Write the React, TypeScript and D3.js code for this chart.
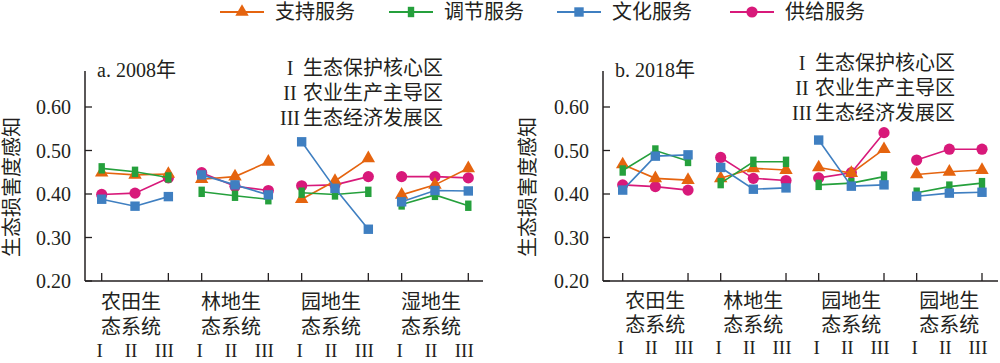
import * as d3 from "d3";

// categories and zones
const zones = ["I", "II", "III"];
const catsA = ["农田", "林地", "园地", "湿地"];
const catsB = ["农田", "林地", "园地", "园地"];
const yTicks = [0.2, 0.3, 0.4, 0.5, 0.6];
const zoneNames = ["生态保护核心区", "农业生产主导区", "生态经济发展区"];

// 2008 (a), 12 values: 4 ecosystems x 3 zones
const support2008 = [0.449, 0.444, 0.446, 0.434, 0.44, 0.474, 0.388, 0.43, 0.482, 0.398, 0.421, 0.459];
const regulate2008 = [0.459, 0.451, 0.438, 0.405, 0.396, 0.388, 0.403, 0.399, 0.405, 0.376, 0.398, 0.373];
const culture2008 = [0.388, 0.372, 0.394, 0.444, 0.421, 0.398, 0.52, 0.413, 0.319, 0.382, 0.408, 0.407];
const provision2008 = [0.399, 0.402, 0.437, 0.449, 0.418, 0.408, 0.419, 0.421, 0.44, 0.44, 0.44, 0.437];

// 2018 (b)
const support2018 = [0.468, 0.436, 0.432, 0.436, 0.459, 0.455, 0.461, 0.448, 0.503, 0.445, 0.451, 0.455];
const regulate2018 = [0.454, 0.5, 0.476, 0.425, 0.474, 0.474, 0.421, 0.425, 0.44, 0.403, 0.417, 0.425];
const culture2018 = [0.409, 0.487, 0.49, 0.461, 0.411, 0.414, 0.524, 0.418, 0.421, 0.395, 0.402, 0.404];
const provision2018 = [0.421, 0.417, 0.409, 0.484, 0.436, 0.431, 0.437, 0.449, 0.541, 0.478, 0.503, 0.503];

const font = "'Liberation Serif', 'Noto Sans CJK SC', serif";
const ink = "#231f20";

const series = [
  { name: "供给服务", color: "#d8197a", shape: "circle" },
  { name: "支持服务", color: "#e5640f", shape: "triangle" },
  { name: "调节服务", color: "#25a03c", shape: "bar" },
  { name: "文化服务", color: "#3f7fc1", shape: "square" },
];
const legendOrder = ["支持服务", "调节服务", "文化服务", "供给服务"];

const tri = d3.symbol().type(d3.symbolTriangle).size(78)();

function Marker({ shape, color, x, y }) {
  if (shape === "circle") return <circle cx={x} cy={y} r={5.6} fill={color} />;
  if (shape === "triangle") return <path d={tri} transform={`translate(${x},${y})`} fill={color} />;
  if (shape === "bar") return <rect x={x - 3.2} y={y - 5.2} width={6.4} height={10.4} fill={color} />;
  return <rect x={x - 4.7} y={y - 4.7} width={9.4} height={9.4} fill={color} />;
}

function Panel({ axisX, x0, x1, axisEnd, cats, values, title, noteX, noteY, labelDx, yLabelX, rowY }) {
  const keys = d3.range(12).map(String);
  const x = d3.scalePoint().domain(keys).range([x0, x1]);
  const y = d3.scaleLinear().domain([0.2, 0.6]).range([281, 107]);
  const line = d3.line<number>().x((_, i) => 0).y((d) => y(d));
  return (
    <g>
      {/* axes */}
      <line x1={axisX} x2={axisX} y1={71} y2={y(0.2)} stroke={ink} strokeWidth={1.5} />
      <line x1={axisX} x2={axisEnd} y1={y(0.2)} y2={y(0.2)} stroke={ink} strokeWidth={1.5} />
      {yTicks.map((t) => (
        <g key={t}>
          <line x1={axisX} x2={axisX + 7} y1={y(t)} y2={y(t)} stroke={ink} strokeWidth={1.3} />
          <text x={axisX - 14} y={y(t)} dy="0.35em" textAnchor="end" fontSize={20} fill={ink}>
            {t.toFixed(2)}
          </text>
        </g>
      ))}
      {keys.filter((k) => +k % 3 !== 1).map((k) => (
        <line key={k} x1={x(k)} x2={x(k)} y1={y(0.2)} y2={y(0.2) - 8} stroke={ink} strokeWidth={1.3} />
      ))}
      {cats.map((c, g) => {
        const cx = x(String(g * 3 + 1)) + labelDx;
        return (
          <g key={g}>
            <text x={cx} y={rowY[0]} dy="0.35em" textAnchor="middle" fontSize={20} fill={ink}>{c + "生"}</text>
            <text x={cx} y={rowY[1]} dy="0.35em" textAnchor="middle" fontSize={20} fill={ink}>态系统</text>
            {zones.map((z, i) => (
              <text key={z} x={x(String(g * 3 + i)) - (i === 0 ? 2 : 4)} y={rowY[2]} dy="0.35em" textAnchor="middle" fontSize={19} fill={ink}>
                {z}
              </text>
            ))}
          </g>
        );
      })}
      <text transform={`translate(${yLabelX},187) rotate(-90)`} dy="0.35em" textAnchor="middle" fontSize={20} fill={ink}>
        生态损害度感知
      </text>
      <text x={axisX + 12} y={77} fontSize={20} fill={ink}>{title}</text>
      {zones.map((z, i) => (
        <g key={z}>
          <text x={noteX - 13} y={noteY + i * 25} dy="0.35em" textAnchor="middle" fontSize={20} fill={ink}>{z}</text>
          <text x={noteX} y={noteY + i * 25} dy="0.35em" fontSize={20} fill={ink}>{zoneNames[i]}</text>
        </g>
      ))}
      {/* series */}
      {series.map((s) => {
        const vals = values[s.name];
        return (
          <g key={s.name}>
            {cats.map((_, g) => {
              const pts = vals.slice(g * 3, g * 3 + 3);
              const path = d3
                .line<number>()
                .x((_, i) => x(String(g * 3 + i)))
                .y((d) => y(d))(pts);
              return <path key={g} d={path} fill="none" stroke={s.color} strokeWidth={1.6} />;
            })}
            {vals.map((v, i) => (
              <Marker key={i} shape={s.shape} color={s.color} x={x(String(i))} y={y(v)} />
            ))}
          </g>
        );
      })}
    </g>
  );
}

export default function App() {
  const legendX = [220, 389, 557, 730];
  return (
    <svg width={1000} height={363} style={{ position: "absolute", left: 0, top: 0, background: "#fff" }} fontFamily={font}>
      {legendOrder.map((n, i) => {
        const s = series.find((d) => d.name === n);
        return (
          <g key={n}>
            <line x1={legendX[i]} x2={legendX[i] + 44} y1={12} y2={12} stroke={s.color} strokeWidth={1.8} />
            <Marker shape={s.shape} color={s.color} x={legendX[i] + 22} y={12} />
            <text x={legendX[i] + 55} y={12} dy="0.35em" fontSize={20} fill={ink}>{n}</text>
          </g>
        );
      })}
      <Panel
        axisX={85}
        x0={101.7}
        x1={468.3}
        axisEnd={483}
        cats={catsA}
        values={{ 支持服务: support2008, 调节服务: regulate2008, 文化服务: culture2008, 供给服务: provision2008 }}
        title="a. 2008年"
        noteX={303}
        noteY={68}
        labelDx={-4}
        yLabelX={12}
        rowY={[301.5, 326.5, 350]}
      />
      <Panel
        axisX={603}
        x0={622.7}
        x1={982}
        axisEnd={998}
        cats={catsB}
        values={{ 支持服务: support2018, 调节服务: regulate2018, 文化服务: culture2018, 供给服务: provision2018 }}
        title="b. 2018年"
        noteX={815}
        noteY={63}
        labelDx={0}
        yLabelX={528}
        rowY={[300.5, 325, 347]}
      />
    </svg>
  );
}
